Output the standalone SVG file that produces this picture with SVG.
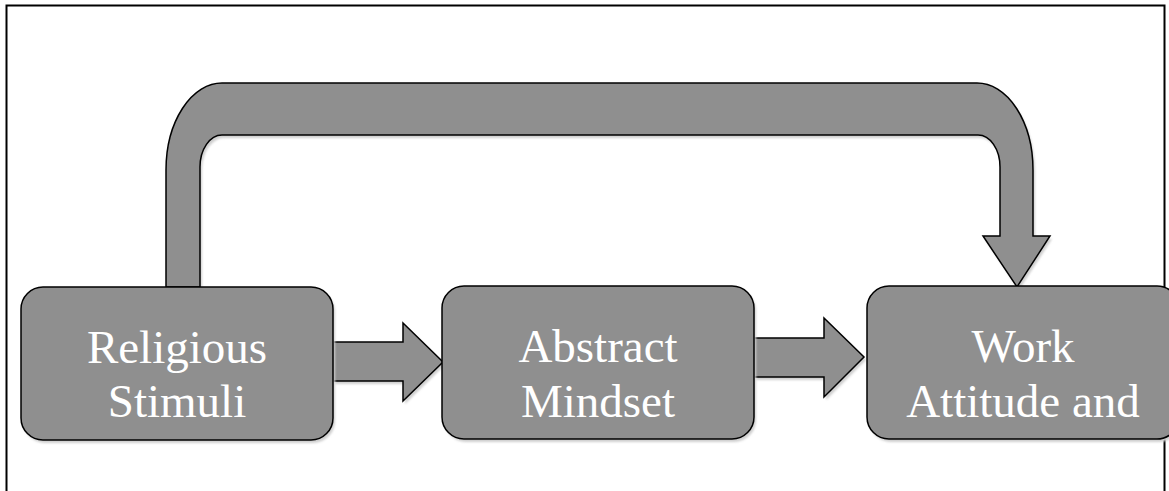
<svg xmlns="http://www.w3.org/2000/svg" width="1169" height="491" viewBox="0 0 1169 491">
<style>
.shape{fill:#8f8f8f;stroke:#000;stroke-width:1.5;stroke-linejoin:miter}
.shadow{fill:#cfcfcf;stroke:none;filter:url(#blur)}
.label{font-family:"Liberation Serif","Times New Roman",serif;font-size:47px;fill:#fff;text-anchor:middle}
</style>
<defs>
<filter id="blur" x="-10%" y="-10%" width="120%" height="120%"><feGaussianBlur stdDeviation="1.2"/></filter>
<path id="bent" d="M166,287 L166,170 A56,87 0 0 1 222,83 L977,83 A56,87 0 0 1 1033,170 L1033,236 L1050,236 L1017,287 L983,236 L1000,236 L1000,167 A22,32 0 0 0 978,135 L222,135 A22,32 0 0 0 200,167 L200,287 Z"/>
<path id="arr1" d="M333,342 L403,342 L403,323 L443,362 L403,401 L403,381 L333,381 Z"/>
<path id="arr2" d="M754,338 L824,338 L824,318 L864,357 L824,397 L824,377 L754,377 Z"/>
</defs>
<rect x="6.5" y="5.5" width="1158" height="500" fill="#fff" stroke="#000" stroke-width="2"/>
<g id="connectors">
<use href="#bent" class="shadow" transform="translate(2,3)"/>
<use href="#bent" class="shape"/>
<use href="#arr1" class="shadow" transform="translate(2,3)"/>
<use href="#arr1" class="shape"/>
<use href="#arr2" class="shadow" transform="translate(2,3)"/>
<use href="#arr2" class="shape"/>
</g>
<g id="node-religious">
<rect x="23" y="290" width="312" height="153" rx="22" class="shadow"/>
<rect x="21" y="287" width="312" height="153" rx="22" class="shape"/>
<text class="label" x="177" y="363">Religious</text>
<text class="label" x="177" y="417">Stimuli</text>
</g>
<g id="node-abstract">
<rect x="444" y="289" width="312" height="153" rx="22" class="shadow"/>
<rect x="442" y="286" width="312" height="153" rx="22" class="shape"/>
<text class="label" x="598" y="362">Abstract</text>
<text class="label" x="598" y="417">Mindset</text>
</g>
<g id="node-work">
<rect x="869" y="289" width="312" height="153" rx="22" class="shadow"/>
<rect x="867" y="286" width="312" height="153" rx="22" class="shape"/>
<text class="label" x="1023" y="362">Work</text>
<text class="label" x="1023" y="417">Attitude and</text>
</g>
</svg>
